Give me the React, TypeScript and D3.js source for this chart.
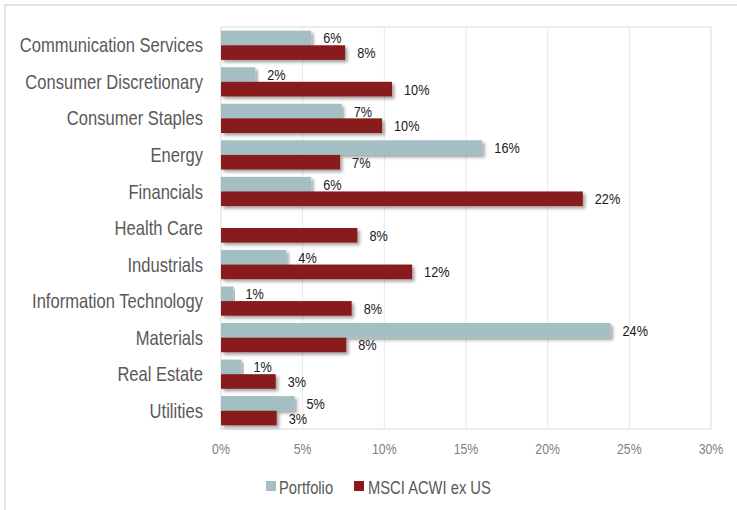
import React from "react";
import * as d3 from "d3";

const categories = [
  "Communication Services",
  "Consumer Discretionary",
  "Consumer Staples",
  "Energy",
  "Financials",
  "Health Care",
  "Industrials",
  "Information Technology",
  "Materials",
  "Real Estate",
  "Utilities",
];
const portfolio = [5.52, 2.1, 7.39, 16.0, 5.52, 0, 4.0, 0.76, 23.85, 1.25, 4.5];
const msci = [7.6, 10.47, 9.86, 7.29, 22.15, 8.35, 11.7, 8.0, 7.67, 3.35, 3.41];
const seriesNames = ["Portfolio", "MSCI ACWI ex US"];
const seriesColors = ["#a4bfc3", "#881a1e"];
const xTicks = [0, 5, 10, 15, 20, 25, 30];

const W = 737;
const H = 510;
const left = 221;
const right = 711;
const top = 27;
const bottom = 429;
const FONT = "'Liberation Sans', Arial, sans-serif";
const NARROW = 0.82;

function NText(props: {
  x: number;
  y: number;
  anchor?: "start" | "middle" | "end";
  size: number;
  fill: string;
  children: React.ReactNode;
}) {
  return (
    <text
      transform={`translate(${props.x},${props.y}) scale(${NARROW},1)`}
      x={0}
      y={0}
      textAnchor={props.anchor || "start"}
      dominantBaseline="central"
      fontFamily={FONT}
      fontSize={props.size}
      fill={props.fill}
    >
      {props.children}
    </text>
  );
}

export default function App() {
  const x = d3.scaleLinear().domain([0, 30]).range([left, right]);
  const y = d3
    .scaleBand<string>()
    .domain(categories)
    .range([top, bottom])
    .paddingInner(0.2)
    .paddingOuter(0.1);
  const sub = d3
    .scaleBand<string>()
    .domain(seriesNames)
    .range([0, y.bandwidth()])
    .padding(0);
  const data = [portfolio, msci];

  return (
    <svg
      width={W}
      height={H}
      style={{ position: "absolute", left: 0, top: 0, background: "#fff" }}
    >
      <defs>
        <filter id="shadow" x="-5%" y="-30%" width="115%" height="180%">
          <feDropShadow dx="2.5" dy="2.5" stdDeviation="1.5" floodColor="#000" floodOpacity="0.35" />
        </filter>
      </defs>
      <rect x={5} y={5} width={900} height={700} fill="#fff" stroke="#d9d9d9" strokeWidth={1.5} />
      {/* gridlines */}
      {xTicks.slice(1, -1).map((t) => (
        <line key={t} x1={x(t)} x2={x(t)} y1={top} y2={bottom} stroke="#e8e8e8" strokeWidth={1} />
      ))}
      <rect x={left} y={top} width={right - left} height={bottom - top} fill="none" stroke="#d9d9d9" strokeWidth={1} />
      {/* bars */}
      {data.map((vals, si) =>
        vals.map((v, i) =>
          v > 0 ? (
            <rect
              key={`${si}-${i}`}
              x={x(0)}
              y={(y(categories[i]) as number) + (sub(seriesNames[si]) as number)}
              width={x(v) - x(0)}
              height={sub.bandwidth()}
              fill={seriesColors[si]}
              filter="url(#shadow)"
            />
          ) : null
        )
      )}
      {/* value labels */}
      {data.map((vals, si) =>
        vals.map((v, i) =>
          v > 0 ? (
            <NText
              key={`l${si}-${i}`}
              x={x(v) + 12}
              y={(y(categories[i]) as number) + (sub(seriesNames[si]) as number) + sub.bandwidth() / 2}
              size={15.5}
              fill="#1a1a1a"
            >
              {Math.round(v)}%
            </NText>
          ) : null
        )
      )}
      {/* category labels */}
      {categories.map((c) => (
        <NText
          key={c}
          x={203}
          y={(y(c) as number) + y.bandwidth() / 2}
          anchor="end"
          size={20.2}
          fill="#595959"
        >
          {c}
        </NText>
      ))}
      {/* x tick labels */}
      {xTicks.map((t) => (
        <NText key={t} x={x(t)} y={449} anchor="middle" size={15} fill="#7f7f7f">
          {t}%
        </NText>
      ))}
      {/* legend */}
      <rect x={266} y={481} width={10} height={10} fill={seriesColors[0]} />
      <NText x={279} y={487} size={18} fill="#595959">
        {seriesNames[0]}
      </NText>
      <rect x={354} y={481} width={10} height={10} fill={seriesColors[1]} />
      <NText x={368} y={487} size={18} fill="#595959">
        {seriesNames[1]}
      </NText>
    </svg>
  );
}
